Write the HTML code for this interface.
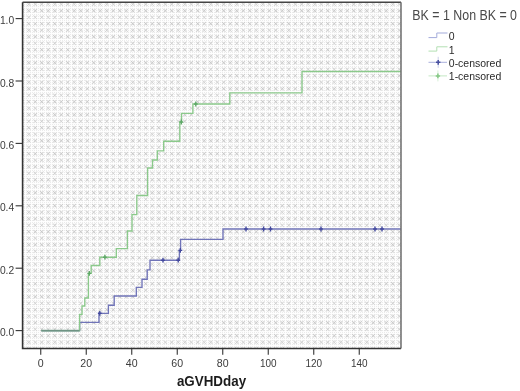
<!DOCTYPE html>
<html lang="en"><head><meta charset="utf-8"><title>aGVHD cumulative incidence</title>
<style>html,body{margin:0;padding:0;background:#fff;width:520px;height:391px;overflow:hidden}svg{display:block}</style></head>
<body>
<svg width="520" height="391" viewBox="0 0 520 391">
<defs><pattern id="dots" x="12.000" y="-6.000" width="13.0" height="13.0" patternUnits="userSpaceOnUse"><path d="M2.350 2.350L5.150 5.150M2.350 5.150L5.150 2.350" stroke="#ececec" stroke-width="1.5" stroke-linecap="round" fill="none" opacity="0.8"/><path d="M2.350 2.350L5.150 5.150M2.350 5.150L5.150 2.350" stroke="#c3c3c3" stroke-width="0.8" stroke-linecap="round" fill="none"/><path d="M8.850 2.350L11.650 5.150M8.850 5.150L11.650 2.350" stroke="#ececec" stroke-width="1.5" stroke-linecap="round" fill="none" opacity="0.8"/><path d="M8.850 2.350L11.650 5.150M8.850 5.150L11.650 2.350" stroke="#c5c5c5" stroke-width="0.8" stroke-linecap="round" fill="none"/><path d="M2.350 8.850L5.150 11.650M2.350 11.650L5.150 8.850" stroke="#eeeeee" stroke-width="1.5" stroke-linecap="round" fill="none" opacity="0.8"/><path d="M2.350 8.850L5.150 11.650M2.350 11.650L5.150 8.850" stroke="#cacaca" stroke-width="0.8" stroke-linecap="round" fill="none"/><path d="M8.850 8.850L11.650 11.650M8.850 11.650L11.650 8.850" stroke="#efefef" stroke-width="1.5" stroke-linecap="round" fill="none" opacity="0.8"/><path d="M8.850 8.850L11.650 11.650M8.850 11.650L11.650 8.850" stroke="#cfcfcf" stroke-width="0.8" stroke-linecap="round" fill="none"/></pattern><pattern id="fine" x="0" y="0" width="2" height="2" patternUnits="userSpaceOnUse"><rect width="2" height="2" fill="#fefefe"/><rect x="0" y="0" width="1" height="1" fill="#ebebeb"/></pattern></defs>
<rect x="22.6" y="2.2" width="378.4" height="346.3" fill="url(#fine)"/>
<rect x="22.6" y="2.2" width="378.4" height="346.3" fill="url(#dots)"/>
<path d="M41.30 330.60H79.60V322.30H99.00V313.30H108.40V305.20H114.20V296.00H136.30V287.40H142.00V279.20H147.20V269.80H150.00V260.20H179.40V250.40H180.60V239.40H223.00V229.00H401.00" fill="none" stroke="#7074b8" stroke-width="1.35"/>
<path d="M41.30 330.60H79.60V314.30H82.00V306.00H84.80V298.00H88.40V273.40H91.20V265.50H99.80V257.20H116.30V248.60H127.40V231.00H132.00V214.60H136.80V195.50H147.60V168.00H152.50V160.00H157.30V150.80H163.70V141.20H179.80V122.00H181.50V113.30H192.90V104.00H229.80V92.80H302.00V71.50H401.00" fill="none" stroke="#8bc98b" stroke-width="1.35"/>
<path d="M41.3 330.6H79.6" fill="none" stroke="#6f9484" stroke-width="1.8"/>
<path d="M87.38 273.40H91.22M89.30 271.00V275.80" stroke="#5fa868" stroke-width="1.4" fill="none"/>
<path d="M102.98 257.20H106.82M104.90 254.80V259.60" stroke="#5fa868" stroke-width="1.4" fill="none"/>
<path d="M179.38 122.00H183.22M181.30 119.60V124.40" stroke="#5fa868" stroke-width="1.4" fill="none"/>
<path d="M193.88 104.00H197.72M195.80 101.60V106.40" stroke="#5fa868" stroke-width="1.4" fill="none"/>
<path d="M97.88 313.30H101.72M99.80 310.90V315.70" stroke="#444a9e" stroke-width="1.4" fill="none"/>
<path d="M161.08 260.20H164.92M163.00 257.80V262.60" stroke="#444a9e" stroke-width="1.4" fill="none"/>
<path d="M176.28 260.20H180.12M178.20 257.80V262.60" stroke="#444a9e" stroke-width="1.4" fill="none"/>
<path d="M178.38 250.40H182.22M180.30 248.00V252.80" stroke="#444a9e" stroke-width="1.4" fill="none"/>
<path d="M244.08 229.00H247.92M246.00 226.60V231.40" stroke="#444a9e" stroke-width="1.4" fill="none"/>
<path d="M261.68 229.00H265.52M263.60 226.60V231.40" stroke="#444a9e" stroke-width="1.4" fill="none"/>
<path d="M268.58 229.00H272.42M270.50 226.60V231.40" stroke="#444a9e" stroke-width="1.4" fill="none"/>
<path d="M319.08 229.00H322.92M321.00 226.60V231.40" stroke="#444a9e" stroke-width="1.4" fill="none"/>
<path d="M373.08 229.00H376.92M375.00 226.60V231.40" stroke="#444a9e" stroke-width="1.4" fill="none"/>
<path d="M380.08 229.00H383.92M382.00 226.60V231.40" stroke="#444a9e" stroke-width="1.4" fill="none"/>
<path d="M22.6 2.2V348.5H401.0" fill="none" stroke="#333" stroke-width="1.6"/>
<path d="M22.6 2.2H401.0" fill="none" stroke="#444" stroke-width="1.4"/>
<path d="M401.0 2.2V348.5" fill="none" stroke="#6c6c6c" stroke-width="1.5"/>
<path d="M40.75 348.5V354.7" stroke="#333" stroke-width="1.1"/>
<path d="M86.25 348.5V354.7" stroke="#333" stroke-width="1.1"/>
<path d="M131.75 348.5V354.7" stroke="#333" stroke-width="1.1"/>
<path d="M177.25 348.5V354.7" stroke="#333" stroke-width="1.1"/>
<path d="M222.75 348.5V354.7" stroke="#333" stroke-width="1.1"/>
<path d="M268.25 348.5V354.7" stroke="#333" stroke-width="1.1"/>
<path d="M313.75 348.5V354.7" stroke="#333" stroke-width="1.1"/>
<path d="M359.25 348.5V354.7" stroke="#333" stroke-width="1.1"/>
<path d="M22.6 330.60H15.600000000000001" stroke="#333" stroke-width="1.1"/>
<path d="M22.6 268.20H15.600000000000001" stroke="#333" stroke-width="1.1"/>
<path d="M22.6 205.80H15.600000000000001" stroke="#333" stroke-width="1.1"/>
<path d="M22.6 143.40H15.600000000000001" stroke="#333" stroke-width="1.1"/>
<path d="M22.6 81.00H15.600000000000001" stroke="#333" stroke-width="1.1"/>
<path d="M22.6 18.60H15.600000000000001" stroke="#333" stroke-width="1.1"/>
<g font-family="'Liberation Sans', Arial, sans-serif">
<text transform="translate(40.75 366.90) scale(1 1.08)" font-size="10.6" text-anchor="middle" fill="#3c3c3c">0</text>
<text transform="translate(86.25 366.90) scale(1 1.08)" font-size="10.6" text-anchor="middle" fill="#3c3c3c">20</text>
<text transform="translate(131.75 366.90) scale(1 1.08)" font-size="10.6" text-anchor="middle" fill="#3c3c3c">40</text>
<text transform="translate(177.25 366.90) scale(1 1.08)" font-size="10.6" text-anchor="middle" fill="#3c3c3c">60</text>
<text transform="translate(222.75 366.90) scale(1 1.08)" font-size="10.6" text-anchor="middle" fill="#3c3c3c">80</text>
<text transform="translate(268.25 366.90) scale(0.94 1.08)" font-size="10.6" text-anchor="middle" fill="#3c3c3c">100</text>
<text transform="translate(313.75 366.90) scale(0.94 1.08)" font-size="10.6" text-anchor="middle" fill="#3c3c3c">120</text>
<text transform="translate(359.25 366.90) scale(0.94 1.08)" font-size="10.6" text-anchor="middle" fill="#3c3c3c">140</text>
<text transform="translate(14.20 336.20) scale(1 1.1)" font-size="10.3" text-anchor="end" fill="#3c3c3c">0.0</text>
<text transform="translate(14.20 273.80) scale(1 1.1)" font-size="10.3" text-anchor="end" fill="#3c3c3c">0.2</text>
<text transform="translate(14.20 211.40) scale(1 1.1)" font-size="10.3" text-anchor="end" fill="#3c3c3c">0.4</text>
<text transform="translate(14.20 149.00) scale(1 1.1)" font-size="10.3" text-anchor="end" fill="#3c3c3c">0.6</text>
<text transform="translate(14.20 86.60) scale(1 1.1)" font-size="10.3" text-anchor="end" fill="#3c3c3c">0.8</text>
<text transform="translate(14.20 24.20) scale(1 1.1)" font-size="10.3" text-anchor="end" fill="#3c3c3c">1.0</text>
<text transform="translate(211.50 386.30) scale(1 1.04)" font-size="13.4" text-anchor="middle" fill="#1c1c1c" font-weight="bold">aGVHDday</text>
<text transform="translate(412.30 19.60) scale(1 1.12)" font-size="12.4" text-anchor="start" fill="#4a4a4a">BK = 1 Non BK = 0</text>
<text transform="translate(448.80 40.10) scale(1 1.03)" font-size="10.5" text-anchor="start" fill="#2a2a2a">0</text>
<text transform="translate(448.80 53.90) scale(1 1.03)" font-size="10.5" text-anchor="start" fill="#2a2a2a">1</text>
<text transform="translate(448.80 67.30) scale(1 1.03)" font-size="10.5" text-anchor="start" fill="#2a2a2a">0-censored</text>
<text transform="translate(448.80 79.90) scale(1 1.03)" font-size="10.5" text-anchor="start" fill="#2a2a2a">1-censored</text>
</g>
<path d="M428.5 37.6H436.8V33H447.5" fill="none" stroke="#a3abdb" stroke-width="1"/>
<path d="M428.5 51.1H436.8V46.8H447.5" fill="none" stroke="#b2dfb2" stroke-width="1"/>
<path d="M428.5 62.3H447" fill="none" stroke="#a9b0dc" stroke-width="1"/><path d="M438.2 56.8V67.8" stroke="#c5c9e8" stroke-width="0.9" fill="none"/><path d="M436.0 62.3H440.4M438.2 59.9V64.7" stroke="#474f9f" stroke-width="1.5" fill="none"/>
<path d="M428.5 75.9H447" fill="none" stroke="#c4e8c4" stroke-width="1"/><path d="M437.9 70.4V81.4" stroke="#d4eed4" stroke-width="0.9" fill="none"/><path d="M435.7 75.9H440.09999999999997M437.9 73.5V78.30000000000001" stroke="#86c886" stroke-width="1.5" fill="none"/>
</svg>
</body></html>
